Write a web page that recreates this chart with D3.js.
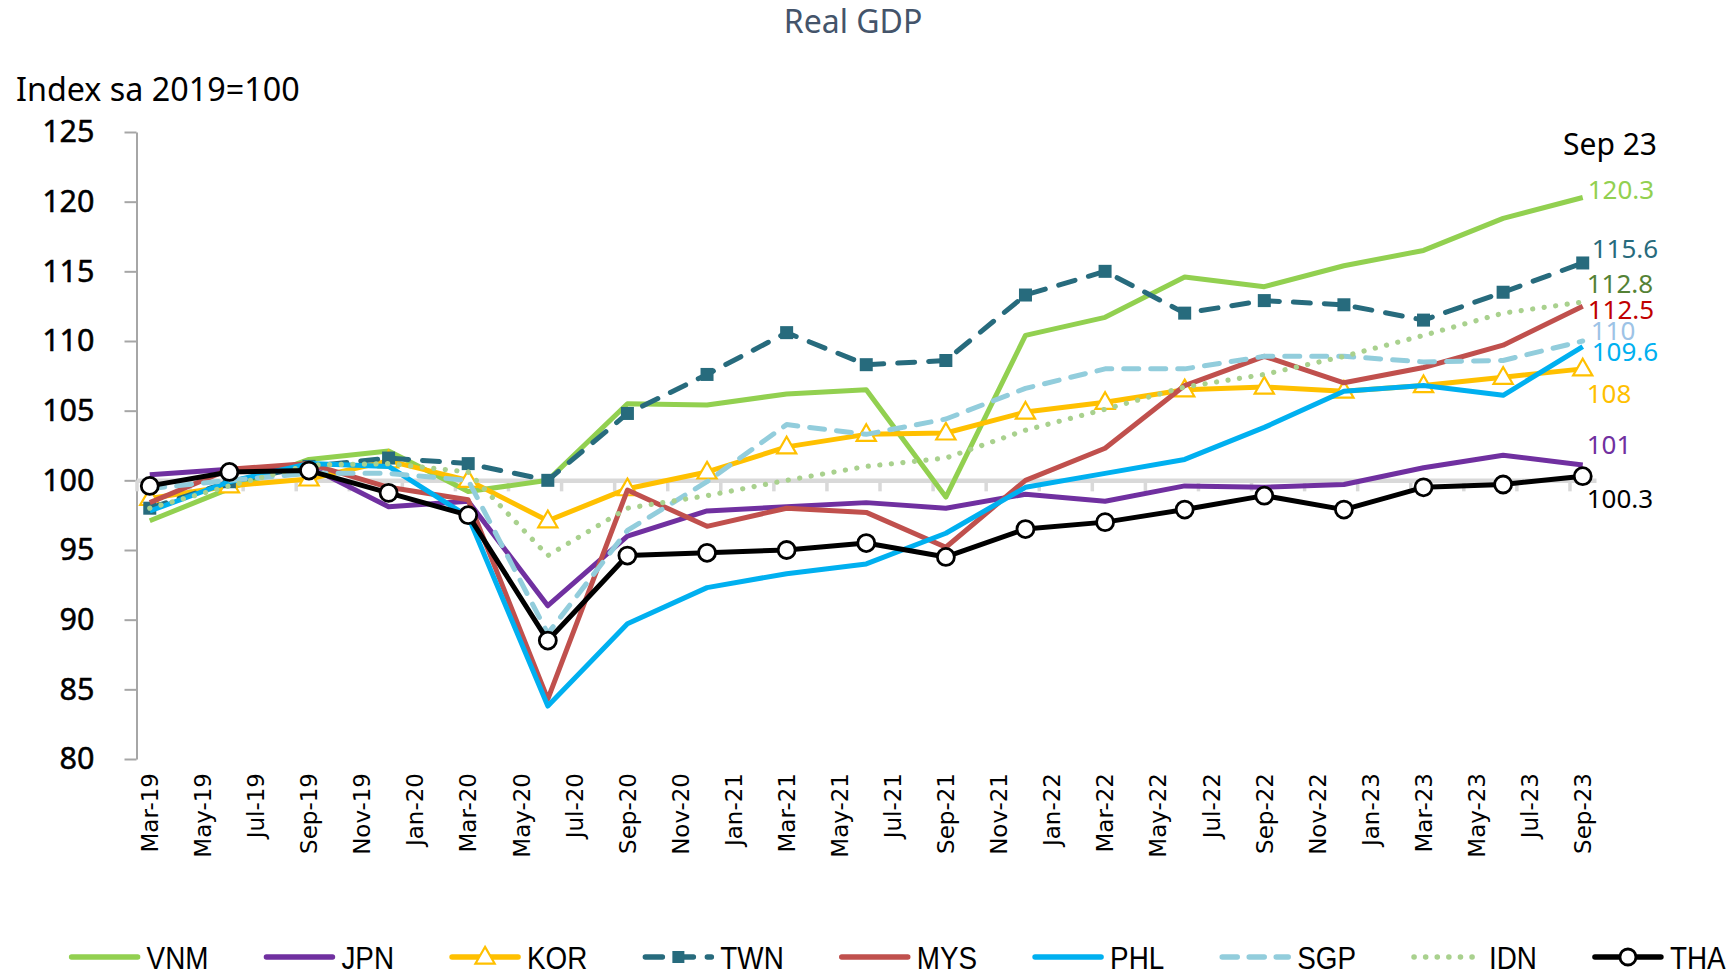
<!DOCTYPE html>
<html><head><meta charset="utf-8">
<script src="https://cdn.jsdelivr.net/npm/d3@7"></script>
<style>
html,body{margin:0;padding:0;background:#fff;}
svg{display:block;}
</style></head>
<body>
<script>
// ---- data ----
const quarters = ["Mar-19","Jun-19","Sep-19","Dec-19","Mar-20","Jun-20","Sep-20","Dec-20","Mar-21","Jun-21","Sep-21","Dec-21","Mar-22","Jun-22","Sep-22","Dec-22","Mar-23","Jun-23","Sep-23"];
const tickLabels = ["Mar-19","May-19","Jul-19","Sep-19","Nov-19","Jan-20","Mar-20","May-20","Jul-20","Sep-20","Nov-20","Jan-21","Mar-21","May-21","Jul-21","Sep-21","Nov-21","Jan-22","Mar-22","May-22","Jul-22","Sep-22","Nov-22","Jan-23","Mar-23","May-23","Jul-23","Sep-23"];
const yTicks = [80,85,90,95,100,105,110,115,120,125];
const VNM = [97.1, 99.4, 101.5, 102.1, 99.2, 100.0, 105.5, 105.4, 106.2, 106.5, 98.8, 110.4, 111.7, 114.6, 113.9, 115.4, 116.5, 118.8, 120.3];
const JPN = [100.4, 100.8, 101.0, 98.1, 98.5, 91.0, 96.0, 97.8, 98.1, 98.4, 98.0, 99.0, 98.5, 99.6, 99.5, 99.7, 100.9, 101.8, 101.1];
const KOR = [98.7, 99.6, 100.1, 101.4, 100.0, 97.1, 99.4, 100.6, 102.4, 103.3, 103.4, 104.9, 105.6, 106.5, 106.7, 106.4, 106.8, 107.4, 108.0];
const TWN = [98.0, 99.9, 101.0, 101.6, 101.2, 100.0, 104.8, 107.6, 110.6, 108.3, 108.6, 113.3, 115.0, 112.0, 112.9, 112.6, 111.5, 113.5, 115.6];
const MYS = [98.4, 100.8, 101.2, 99.5, 98.6, 84.3, 99.3, 96.7, 98.0, 97.7, 95.2, 100.0, 102.3, 106.8, 108.9, 107.0, 108.1, 109.7, 112.5];
const PHL = [97.8, 99.9, 101.2, 101.0, 97.4, 83.8, 89.7, 92.3, 93.3, 94.0, 96.2, 99.5, 100.5, 101.5, 103.8, 106.4, 106.8, 106.1, 109.6];
const SGP = [99.4, 100.0, 100.5, 100.5, 100.0, 89.0, 96.4, 99.9, 104.0, 103.3, 104.4, 106.6, 108.0, 108.0, 108.9, 108.9, 108.5, 108.6, 110.0];
const IDN = [98.0, 99.6, 101.1, 101.2, 100.6, 94.6, 98.0, 98.9, 100.0, 101.0, 101.6, 103.6, 105.1, 106.7, 107.6, 108.9, 110.4, 112.0, 112.8];
const THA = [99.6, 100.6, 100.7, 99.1, 97.5, 88.5, 94.6, 94.8, 95.0, 95.5, 94.5, 96.5, 97.0, 97.9, 98.9, 97.9, 99.5, 99.7, 100.3];
const seriesNames = ["VNM","JPN","KOR","TWN","MYS","PHL","SGP","IDN","THA"];
const seriesValues = [VNM, JPN, KOR, TWN, MYS, PHL, SGP, IDN, THA];
const endLabels = ["120.3","101","108","115.6","112.5","109.6","110","112.8","100.3"];

// ---- styles ----
const styles = {
  VNM:{color:"#92D050", dash:null, marker:null},
  JPN:{color:"#7030A0", dash:null, marker:null},
  KOR:{color:"#FFC000", dash:null, marker:"triangle"},
  TWN:{color:"#276B7D", dash:"17,14", marker:"square"},
  MYS:{color:"#C0504D", dash:null, marker:null},
  PHL:{color:"#00B0F0", dash:null, marker:null},
  SGP:{color:"#92CDDC", dash:"15,12", marker:null},
  IDN:{color:"#A9D18E", dash:"0.1,11.5", marker:null},
  THA:{color:"#000000", dash:null, marker:"circle"}
};
const labelColors = {VNM:"#92D050",JPN:"#7030A0",KOR:"#FFC000",TWN:"#276B7D",MYS:"#C00000",PHL:"#00B0F0",SGP:"#9DC3E6",IDN:"#548235",THA:"#000000"};
const labelNudge = {VNM:[5,1.5],JPN:[4,-11],KOR:[4,34],TWN:[9,-5],MYS:[5,13],PHL:[9,14],SGP:[8,-1],IDN:[4,-9],THA:[4,32]};

const W = 1727, H = 974;
const svg = d3.select("body").append("svg").attr("width",W).attr("height",H);

const parse = d3.timeParse("%b-%y");
const mIdx = s => { const d = parse(s); return (d.getFullYear()-2019)*12 + d.getMonth() - 2; };

const x = d3.scaleLinear().domain([-0.5, 54.5]).range([136.5, 1596]);
const y = d3.scaleLinear().domain([80,125]).range([759, 132]);

const NOTO = "'Noto Sans', sans-serif";

// title
svg.append("text").attr("x",853).attr("y",33).attr("text-anchor","middle")
  .attr("font-family",NOTO).attr("font-size",32).attr("fill","#44546A").text("Real GDP");
// y label
svg.append("text").attr("x",16).attr("y",101).attr("font-family",NOTO).attr("font-size",32.3)
  .attr("fill","#000").text("Index sa 2019=100");

// y axis
const ya = svg.append("g").attr("transform",`translate(${x(-0.5)},0)`)
  .call(d3.axisLeft(y).tickValues(yTicks).tickSize(12).tickSizeOuter(0).tickPadding(30).tickFormat(d3.format("d")));
ya.select(".domain").attr("stroke","#A6A6A6").attr("stroke-width",2);
ya.selectAll(".tick line").attr("stroke","#A6A6A6").attr("stroke-width",2);
ya.selectAll(".tick text").attr("font-family",NOTO).attr("font-size",30.5).attr("fill","#000")
  .attr("stroke","#000").attr("stroke-width",0.5);

// x axis crossing at 100
const xTickVals = tickLabels.map(s => mIdx(s) - 0.5);
const xa = svg.append("g").attr("transform",`translate(0,${y(100)})`)
  .call(d3.axisBottom(x).tickValues(xTickVals).tickSize(11).tickSizeOuter(0).tickFormat(""));
xa.select(".domain").attr("stroke","#D9D9D9").attr("stroke-width",4.5);
xa.selectAll(".tick line").attr("stroke","#D9D9D9").attr("stroke-width",3.5);

// x labels (low position)
svg.append("g").selectAll("text").data(tickLabels).join("text")
  .attr("transform", d => `translate(${x(mIdx(d))},773) rotate(-90)`)
  .attr("text-anchor","end").attr("dy","0.36em")
  .attr("font-family","'DejaVu Sans', sans-serif").attr("font-size",23).attr("fill","#000")
  .text(d => d);

// series
const qx = quarters.map(q => x(mIdx(q)));
const line = d3.line().x((d,i)=>qx[i]).y(d=>y(d));
const triPath = d3.symbol().type(d3.symbolTriangle).size(160)();

seriesNames.forEach((name, si) => {
  const st = styles[name];
  const vals = seriesValues[si];
  const g = svg.append("g");
  g.append("path").datum(vals).attr("d",line).attr("fill","none")
    .attr("stroke",st.color)
    .attr("stroke-width", name==="IDN"?5.2: 5)
    .attr("stroke-linejoin","round")
    .attr("stroke-linecap", st.dash ? "round" : "butt")
    .attr("stroke-dasharray", st.dash);
  if (st.marker==="circle") {
    g.selectAll("circle").data(vals).join("circle")
      .attr("cx",(d,i)=>qx[i]).attr("cy",d=>y(d)).attr("r",8.5)
      .attr("fill","#fff").attr("stroke","#000").attr("stroke-width",2.8);
  } else if (st.marker==="triangle") {
    g.selectAll("path.m").data(vals).join("path").attr("class","m")
      .attr("d",triPath).attr("transform",(d,i)=>`translate(${qx[i]},${y(d)+1})`)
      .attr("fill","#fff").attr("stroke",st.color).attr("stroke-width",2.2);
  } else if (st.marker==="square") {
    g.selectAll("rect").data(vals).join("rect")
      .attr("x",(d,i)=>qx[i]-6.5).attr("y",d=>y(d)-6.5).attr("width",13).attr("height",13)
      .attr("fill",st.color);
  }
  // end label
  const last = vals[vals.length-1];
  const nd = labelNudge[name];
  svg.append("text").attr("x", qx[qx.length-1] + nd[0]).attr("y", y(last) + nd[1])
    .attr("font-family",NOTO).attr("font-size",26).attr("fill",labelColors[name])
    .text(endLabels[si]);
});

svg.append("text").attr("x",1563).attr("y",155).attr("font-family",NOTO).attr("font-size",30)
  .attr("fill","#000").text("Sep 23");

// legend
const lg = svg.append("g");
let lx = 71.6;
const ly = 957;
const sx = 0.87;
seriesNames.forEach((name) => {
  const st = styles[name];
  const it = lg.append("g");
  it.append("line").attr("x1",lx).attr("x2",lx+66).attr("y1",ly).attr("y2",ly)
    .attr("stroke",st.color).attr("stroke-width",5.5)
    .attr("stroke-linecap","round")
    .attr("stroke-dasharray", st.dash);
  const cx = lx + 33;
  if (st.marker==="circle") it.append("circle").attr("cx",cx).attr("cy",ly).attr("r",8)
      .attr("fill","#fff").attr("stroke","#000").attr("stroke-width",2.8);
  if (st.marker==="triangle") it.append("path").attr("d",triPath).attr("transform",`translate(${cx},${ly+1})`)
      .attr("fill","#fff").attr("stroke",st.color).attr("stroke-width",2.2);
  if (st.marker==="square") it.append("rect").attr("x",cx-6).attr("y",ly-6).attr("width",12).attr("height",12).attr("fill",st.color);
  const t = it.append("text").attr("transform",`translate(${lx+75},${ly+12}) scale(${sx},1)`)
    .attr("font-family","'Liberation Sans', sans-serif").attr("font-size",32)
    .attr("fill","#000").text(name);
  const w = t.node().getComputedTextLength() * sx;
  lx += 75 + w + 58;
});
</script>
</body></html>
